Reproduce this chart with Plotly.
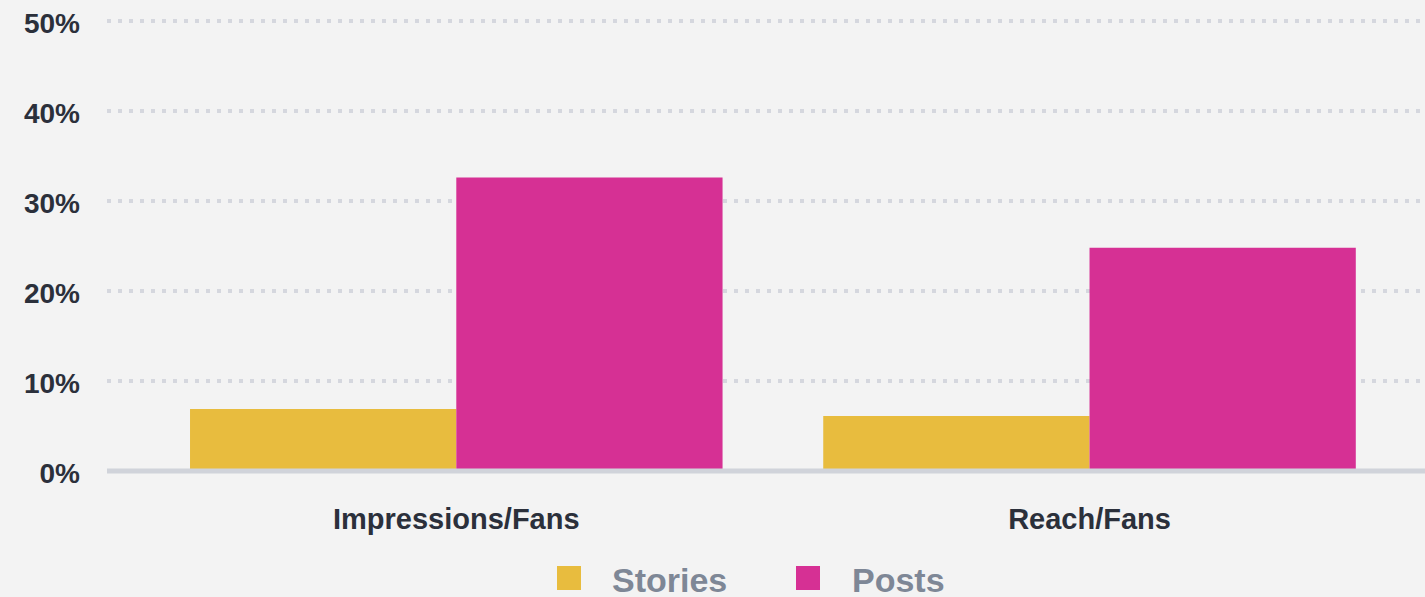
import plotly.graph_objects as go

categories = ["Impressions/Fans", "Reach/Fans"]
stories = [6.9, 6.1]
posts = [32.6, 24.8]
series_names = ["Stories", "Posts"]
tick_vals = [0, 10, 20, 30, 40, 50]
tick_text = ["0%", "10%", "20%", "30%", "40%", "50%"]

W, H = 1425, 597
L, R, T, B = 107, 0, 12, 117
PW, PH = W - L - R, H - T - B

YEL = "#e8bc3e"
MAG = "#d63094"
BG = "#f3f3f3"
FONT = "Liberation Sans, Arial, Helvetica, sans-serif"


def px_x(p):
    return (p - L) / PW


def px_y(p):
    return (H - B - p) / PH


fig = go.Figure()
fig.add_trace(go.Bar(x=categories, y=stories, name=series_names[0],
                     marker=dict(color=YEL, line=dict(width=0)), showlegend=False))
fig.add_trace(go.Bar(x=categories, y=posts, name=series_names[1],
                     marker=dict(color=MAG, line=dict(width=0)), showlegend=False))

fig.update_layout(
    width=W, height=H,
    margin=dict(l=L, r=R, t=T, b=B, autoexpand=False),
    paper_bgcolor=BG, plot_bgcolor=BG,
    barmode="group", bargap=0.159, bargroupgap=0,
    font=dict(family=FONT),
)
fig.update_xaxes(
    type="category", range=[-0.5516, 1.5298],
    showgrid=False, zeroline=False, showline=False, ticks="",
    tickfont=dict(family=FONT, size=29, color="#2b303b", weight="bold"),
    ticklabelstandoff=19,
)
fig.update_yaxes(
    range=[-1, 51], tickvals=tick_vals, ticktext=tick_text,
    showgrid=True, gridcolor="#d5d7de", gridwidth=4, griddash="4px,7px",
    zeroline=False, showline=False, ticks="",
    tickfont=dict(family=FONT, size=28, color="#2b303b", weight="bold"),
    ticklabelstandoff=26, ticklabelshift=2,
)

# baseline
fig.add_shape(type="line", xref="paper", yref="y", x0=0, x1=1, y0=0, y1=0,
              line=dict(color="#d0d3da", width=5), layer="above")

# custom legend
legend_items = [(series_names[0], YEL, 557, 610), (series_names[1], MAG, 796, 850)]
for name, col, sx, tx in legend_items:
    fig.add_shape(type="rect", xref="paper", yref="paper",
                  x0=px_x(sx), x1=px_x(sx + 24), y0=px_y(566), y1=px_y(590),
                  fillcolor=col, line=dict(width=0))
    fig.add_annotation(xref="paper", yref="paper", x=px_x(tx), y=px_y(580),
                       xanchor="left", yanchor="middle", showarrow=False,
                       text=name, font=dict(family=FONT, size=34, color="#7e8796", weight="bold"))

fig.write_html("out.html")
